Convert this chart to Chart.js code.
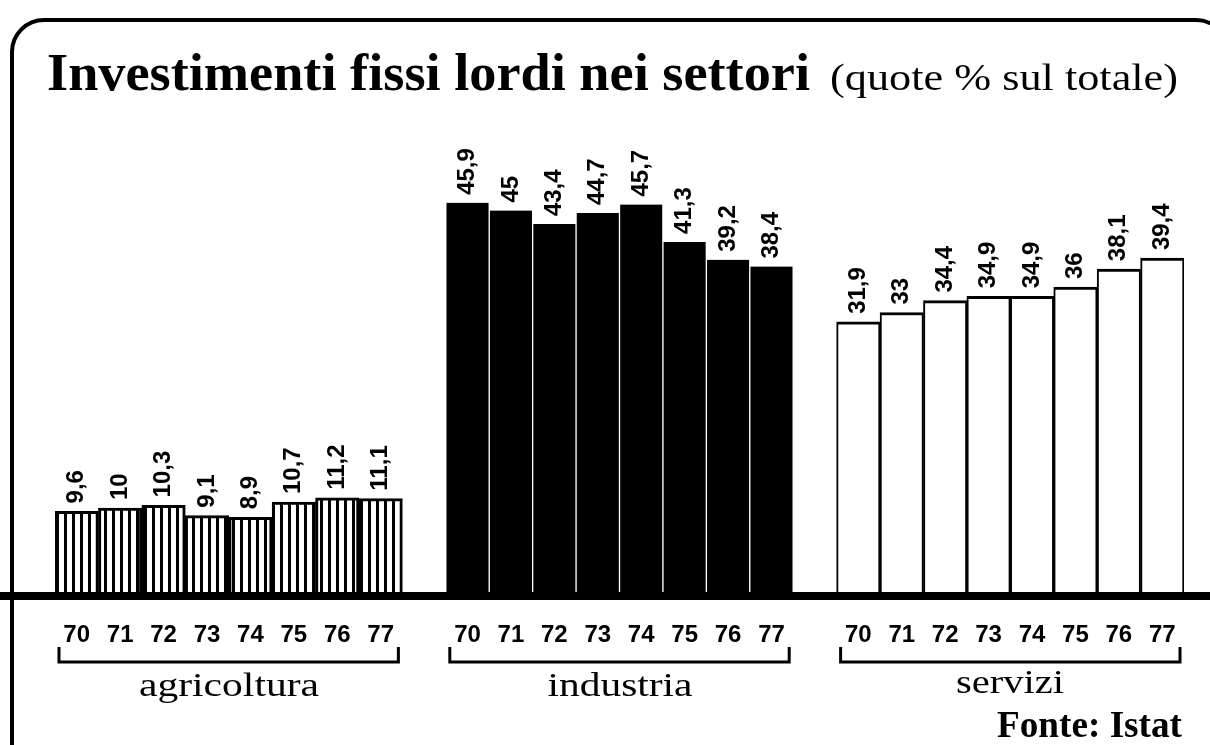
<!DOCTYPE html>
<html>
<head>
<meta charset="utf-8">
<script src="https://cdnjs.cloudflare.com/ajax/libs/Chart.js/4.4.1/chart.umd.min.js"></script>
<style>
  html,body{margin:0;padding:0;background:#fff;}
  #wrap{position:relative;width:1210px;height:745px;overflow:hidden;}
  #frame{position:absolute;left:10px;top:18px;width:1220px;height:800px;border:4px solid #000;border-radius:34px;box-sizing:border-box;}
  canvas{position:absolute;left:0;top:0;}
  .t{position:absolute;white-space:nowrap;font-family:"Liberation Serif","Times New Roman",serif;color:#000;line-height:1;transform-origin:0 0;}
  .c{transform-origin:50% 0;}
</style>
</head>
<body>
<div id="wrap">
  <div id="frame"></div>
  <canvas id="chart" width="1210" height="745"></canvas>
  <div class="t" id="title" style="left:47px;top:47px;font-size:52px;font-weight:bold;">Investimenti fissi lordi nei settori</div>
  <div class="t" id="sub" style="left:830px;top:58px;font-size:38px;">(quote % sul totale)</div>
  <div class="t c" id="g0" style="top:669px;font-size:33px;"></div>
  <div class="t c" id="g1" style="top:669px;font-size:33px;"></div>
  <div class="t c" id="g2" style="top:666px;font-size:33px;"></div>
  <div class="t" id="src" style="left:997px;top:706px;font-size:37px;font-weight:bold;">Fonte: Istat</div>
</div>
<script>
// Quote % degli investimenti fissi lordi per settore, 1970-77 (Istat)
const YEARS = ['70','71','72','73','74','75','76','77'];
const SECTORS = ['agricoltura','industria','servizi'];
const AGRICOLTURA = [9.6, 10, 10.3, 9.1, 8.9, 10.7, 11.2, 11.1];
const INDUSTRIA   = [45.9, 45, 43.4, 44.7, 45.7, 41.3, 39.2, 38.4];
const SERVIZI     = [31.9, 33, 34.4, 34.9, 34.9, 36, 38.1, 39.4];

// one empty slot between the three groups
const LABELS = [...YEARS, '', ...YEARS, '', ...YEARS];
const N = YEARS.length;
function place(values, group){
  const out = LABELS.map(()=>null);
  values.forEach((v,i)=>{ out[group*(N+1)+i] = v; });
  return out;
}

// vertical stripes for agricoltura
function stripes(){
  const c = document.createElement('canvas'); c.width = 8; c.height = 4;
  const g = c.getContext('2d');
  g.fillStyle = '#fff'; g.fillRect(0,0,8,4);
  g.fillStyle = '#000'; g.fillRect(0,0,3,4);
  return g.createPattern(c,'repeat');
}

const fmt = v => String(v).replace('.', ',');

// rotated value labels above each bar
const valueLabels = {
  id:'valueLabels',
  afterDatasetsDraw(chart){
    const ctx = chart.ctx;
    ctx.save();
    ctx.fillStyle = '#000';
    ctx.font = 'bold 24px "Liberation Sans", Arial, sans-serif';
    ctx.textAlign = 'left'; ctx.textBaseline = 'middle';
    chart.data.datasets.forEach((ds,di)=>{
      chart.getDatasetMeta(di).data.forEach((bar,i)=>{
        const v = ds.data[i];
        if(v==null) return;
        ctx.save();
        ctx.translate(bar.x, bar.y - 8);
        ctx.rotate(-Math.PI/2);
        ctx.fillText(fmt(v), 0, 0);
        ctx.restore();
      });
    });
    ctx.restore();
  }
};

// thick baseline + brackets under each group of years
const baseAndBrackets = {
  id:'baseAndBrackets',
  afterDatasetsDraw(chart){
    const {ctx, chartArea, scales:{x}} = chart;
    ctx.save();
    ctx.strokeStyle = '#000';
    ctx.lineWidth = 8;
    ctx.beginPath(); ctx.moveTo(0, chartArea.bottom + 3); ctx.lineTo(1210, chartArea.bottom + 3); ctx.stroke();
    const half = (x.getPixelForValue(1) - x.getPixelForValue(0)) / 2;
    ctx.lineWidth = 3;
    SECTORS.forEach((s,gi)=>{
      const x0 = x.getPixelForValue(gi*(N+1)) - half + 4;
      const x1 = x.getPixelForValue(gi*(N+1)+N-1) + half - 4;
      const yb = chartArea.bottom + 69, yt = yb - 15;
      ctx.beginPath();
      ctx.moveTo(x0, yt); ctx.lineTo(x0, yb); ctx.lineTo(x1, yb); ctx.lineTo(x1, yt);
      ctx.stroke();
      const el = document.getElementById('g'+gi);
      el.textContent = s;
      el.style.left = ((x0+x1)/2) + 'px';
    });
    ctx.restore();
  }
};

new Chart(document.getElementById('chart'), {
  type:'bar',
  data:{
    labels: LABELS,
    datasets:[
      { label:SECTORS[0], data:place(AGRICOLTURA,0), backgroundColor:stripes(),
        borderColor:'#000', borderWidth:{top:3,left:3,right:3,bottom:0} },
      { label:SECTORS[1], data:place(INDUSTRIA,1), backgroundColor:'#000',
        borderColor:'#fff', borderWidth:{top:0,left:1,right:1,bottom:0} },
      { label:SECTORS[2], data:place(SERVIZI,2), backgroundColor:'#fff',
        borderColor:'#000', borderWidth:{top:3,left:2,right:2,bottom:0} },
    ]
  },
  options:{
    responsive:false, animation:false, devicePixelRatio:1,
    datasets:{ bar:{ grouped:false, barPercentage:1, categoryPercentage:1 } },
    layout:{ padding:{ left:55, right:26, top:83, bottom:0 } },
    plugins:{ legend:{display:false}, tooltip:{enabled:false}, title:{display:false} },
    scales:{
      y:{ display:false, min:0, max:60 },
      x:{
        grid:{display:false}, border:{display:false},
        ticks:{ color:'#000', autoSkip:false, maxRotation:0, padding:20,
                font:{family:'"Liberation Sans", Arial, sans-serif', size:24, weight:'bold'} },
        afterFit(s){ s.height = 152; }
      }
    }
  },
  plugins:[valueLabels, baseAndBrackets]
});

// squeeze the condensed newspaper type to its printed width
function fitW(id, w){
  const el = document.getElementById(id);
  const s = w / el.getBoundingClientRect().width;
  el.style.transform = (el.classList.contains('c') ? 'translateX(-50%) ' : '') + 'scaleX(' + s + ')';
}
fitW('title', 763);
fitW('sub', 348);
fitW('g0', 180);
fitW('g1', 145);
fitW('g2', 108);
fitW('src', 185);
</script>
</body>
</html>
